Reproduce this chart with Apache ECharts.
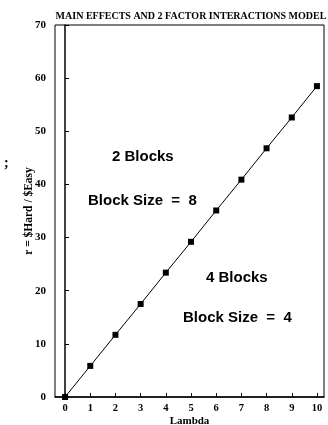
<!DOCTYPE html>
<html><head><meta charset="utf-8">
<script src="https://cdn.jsdelivr.net/npm/echarts@6/dist/echarts.min.js"></script>
<style>html,body{margin:0;padding:0;background:#fff}#c{width:328px;height:425px}</style>
</head><body><div id="c"></div>
<script>
const lambdas = [0,1,2,3,4,5,6,7,8,9,10];
const ratios = [0,5.85,11.7,17.5,23.4,29.2,35.1,40.9,46.8,52.6,58.5];
const xTicks = [0,1,2,3,4,5,6,7,8,9,10];
const yTicks = [0,10,20,30,40,50,60,70];
const serif = '"Liberation Serif", "DejaVu Serif", serif';
const sans = '"Liberation Sans", Arial, sans-serif';
const chart = echarts.init(document.getElementById('c'));
chart.setOption({
  animation:false,
  title:{text:'MAIN EFFECTS AND 2 FACTOR INTERACTIONS MODEL',left:186,top:6,textAlign:'center',
    textStyle:{fontFamily:serif,fontSize:10,fontWeight:'bold',color:'#000'}},
  grid:{left:55,right:4,top:25,bottom:28,show:true,borderColor:'#000',borderWidth:1,outerBoundsMode:'none'},
  xAxis:{type:'value',min:-0.4,max:10.28,interval:1,
    name:'Lambda',nameLocation:'middle',nameGap:19,nameMoveOverlap:false,
    nameTextStyle:{fontFamily:serif,fontSize:11,fontWeight:'bold',color:'#000'},
    axisLine:{lineStyle:{color:'#000',width:1.5}},
    axisTick:{inside:true,length:4,lineStyle:{color:'#000'},customValues:xTicks},
    axisLabel:{fontFamily:serif,fontSize:10.5,fontWeight:'bold',color:'#000',margin:6,customValues:xTicks},
    splitLine:{show:false}},
  yAxis:{type:'value',min:0,max:70,interval:10,
    name:'r = $Hard / $Easy',nameLocation:'middle',nameGap:20,nameMoveOverlap:false,
    nameTextStyle:{fontFamily:serif,fontSize:11.5,fontWeight:'bold',color:'#000'},
    axisLine:{show:true,lineStyle:{color:'#000',width:1.5}},
    axisTick:{show:true,inside:true,length:4,lineStyle:{color:'#000'}},
    axisLabel:{fontFamily:serif,fontSize:11,fontWeight:'bold',color:'#000',margin:9,customValues:yTicks},
    splitLine:{show:false}},
  graphic:[
    {type:'text',left:112,top:149,style:{text:'2 Blocks',font:'bold 15px '+sans,fill:'#000'}},
    {type:'text',left:88,top:193,style:{text:'Block Size  =  8',font:'bold 15px '+sans,fill:'#000'}},
    {type:'text',left:206,top:270,style:{text:'4 Blocks',font:'bold 15px '+sans,fill:'#000'}},
    {type:'text',left:183,top:310,style:{text:'Block Size  =  4',font:'bold 15px '+sans,fill:'#000'}},
    {type:'text',left:4,top:156,style:{text:';',font:'bold 14px '+serif,fill:'#000'}}
  ],
  series:[{type:'line',data:lambdas.map((l,i)=>[l,ratios[i]]),symbol:'rect',symbolSize:6,
    lineStyle:{color:'#000',width:1},itemStyle:{color:'#000'}}]
});
</script></body></html>
